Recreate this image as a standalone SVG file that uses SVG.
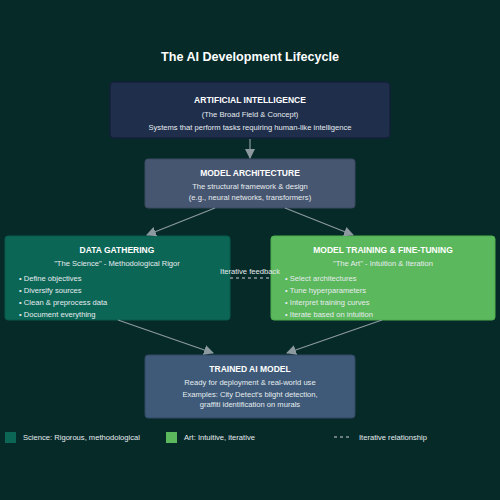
<svg xmlns="http://www.w3.org/2000/svg" width="500" height="500" viewBox="0 0 500 500">
<style>
text{font-family:"Liberation Sans",Arial,sans-serif;fill:#ffffff}
.t{font-size:8.5px;font-weight:bold;text-anchor:middle}
.s{font-size:7.6px;text-anchor:middle;fill:#e6ecef}
.b{font-size:7.6px;fill:#e6ecef}
.c{stroke:#8c9aa0;stroke-width:1.2;fill:none;marker-end:url(#ah)}
</style>
<defs>
<marker id="ah" markerWidth="10" markerHeight="10" refX="9" refY="5" orient="auto" markerUnits="userSpaceOnUse">
<path d="M0,0 L10,5 L0,10 Z" fill="#8c9aa0"/>
</marker>
</defs>
<rect width="500" height="500" fill="#062a28"/>
<text x="250" y="61" style="font-size:12.6px;font-weight:bold;text-anchor:middle">The AI Development Lifecycle</text>
<g id="ai">
<rect x="110" y="82" width="280" height="56" rx="4" fill="#1f2e4b" stroke="#14203a" stroke-width="1.5"/>
<text class="t" x="250" y="103">ARTIFICIAL INTELLIGENCE</text>
<text class="s" x="250" y="117">(The Broad Field &amp; Concept)</text>
<text class="s" x="250" y="130">Systems that perform tasks requiring human-like intelligence</text>
</g>
<g id="arch">
<rect x="145" y="159" width="210" height="49" rx="3" fill="#475670" stroke="#3b4860"/>
<text class="t" x="250" y="176">MODEL ARCHITECTURE</text>
<text class="s" x="250" y="189">The structural framework &amp; design</text>
<text class="s" x="250" y="200">(e.g., neural networks, transformers)</text>
</g>
<g id="data">
<rect x="5" y="236" width="225" height="84" rx="3" fill="#0b6656" stroke="#095a4c"/>
<text class="t" x="117" y="253">DATA GATHERING</text>
<text class="s" x="117" y="266">"The Science" - Methodological Rigor</text>
<text class="b" x="19" y="281">• Define objectives</text>
<text class="b" x="19" y="293">• Diversify sources</text>
<text class="b" x="19" y="305">• Clean &amp; preprocess data</text>
<text class="b" x="19" y="317">• Document everything</text>
</g>
<g id="training">
<rect x="271" y="236" width="224" height="84" rx="3" fill="#5cb85c" stroke="#4cae4c"/>
<text class="t" x="383" y="253">MODEL TRAINING &amp; FINE-TUNING</text>
<text class="s" x="383" y="266">"The Art" - Intuition &amp; Iteration</text>
<text class="b" x="285" y="281">• Select architectures</text>
<text class="b" x="285" y="293">• Tune hyperparameters</text>
<text class="b" x="285" y="305">• Interpret training curves</text>
<text class="b" x="285" y="317">• Iterate based on intuition</text>
</g>
<g id="trained">
<rect x="145" y="355" width="210" height="63" rx="3" fill="#3e5a78" stroke="#2f4763"/>
<text class="t" x="250" y="372">TRAINED AI MODEL</text>
<text class="s" x="250" y="385">Ready for deployment &amp; real-world use</text>
<text class="s" x="250" y="397">Examples: City Detect's blight detection,</text>
<text class="s" x="250" y="407">graffiti identification on murals</text>
</g>
<g id="connectors">
<line class="c" x1="250" y1="139" x2="250" y2="158"/>
<line class="c" x1="215" y1="208" x2="147" y2="235"/>
<line class="c" x1="285" y1="208" x2="353" y2="235"/>
<line class="c" x1="118" y1="320" x2="213" y2="353"/>
<line class="c" x1="382" y1="320" x2="287" y2="353"/>
<line x1="230" y1="278" x2="271" y2="278" stroke="#8c9aa0" stroke-width="1.5" stroke-dasharray="3,3"/>
<text x="250" y="274" style="font-size:7.6px;text-anchor:middle;fill:#e6ecef">Iterative feedback</text>
</g>
<g id="legend">
<rect x="5" y="432" width="11" height="11" fill="#0b6656"/>
<text class="b" x="23" y="440">Science: Rigorous, methodological</text>
<rect x="166" y="432" width="11" height="11" fill="#5cb85c"/>
<text class="b" x="184" y="440">Art: Intuitive, iterative</text>
<line x1="334" y1="437" x2="352" y2="437" stroke="#8c9aa0" stroke-width="1.5" stroke-dasharray="3,3"/>
<text class="b" x="359" y="440">Iterative relationship</text>
</g>
</svg>
